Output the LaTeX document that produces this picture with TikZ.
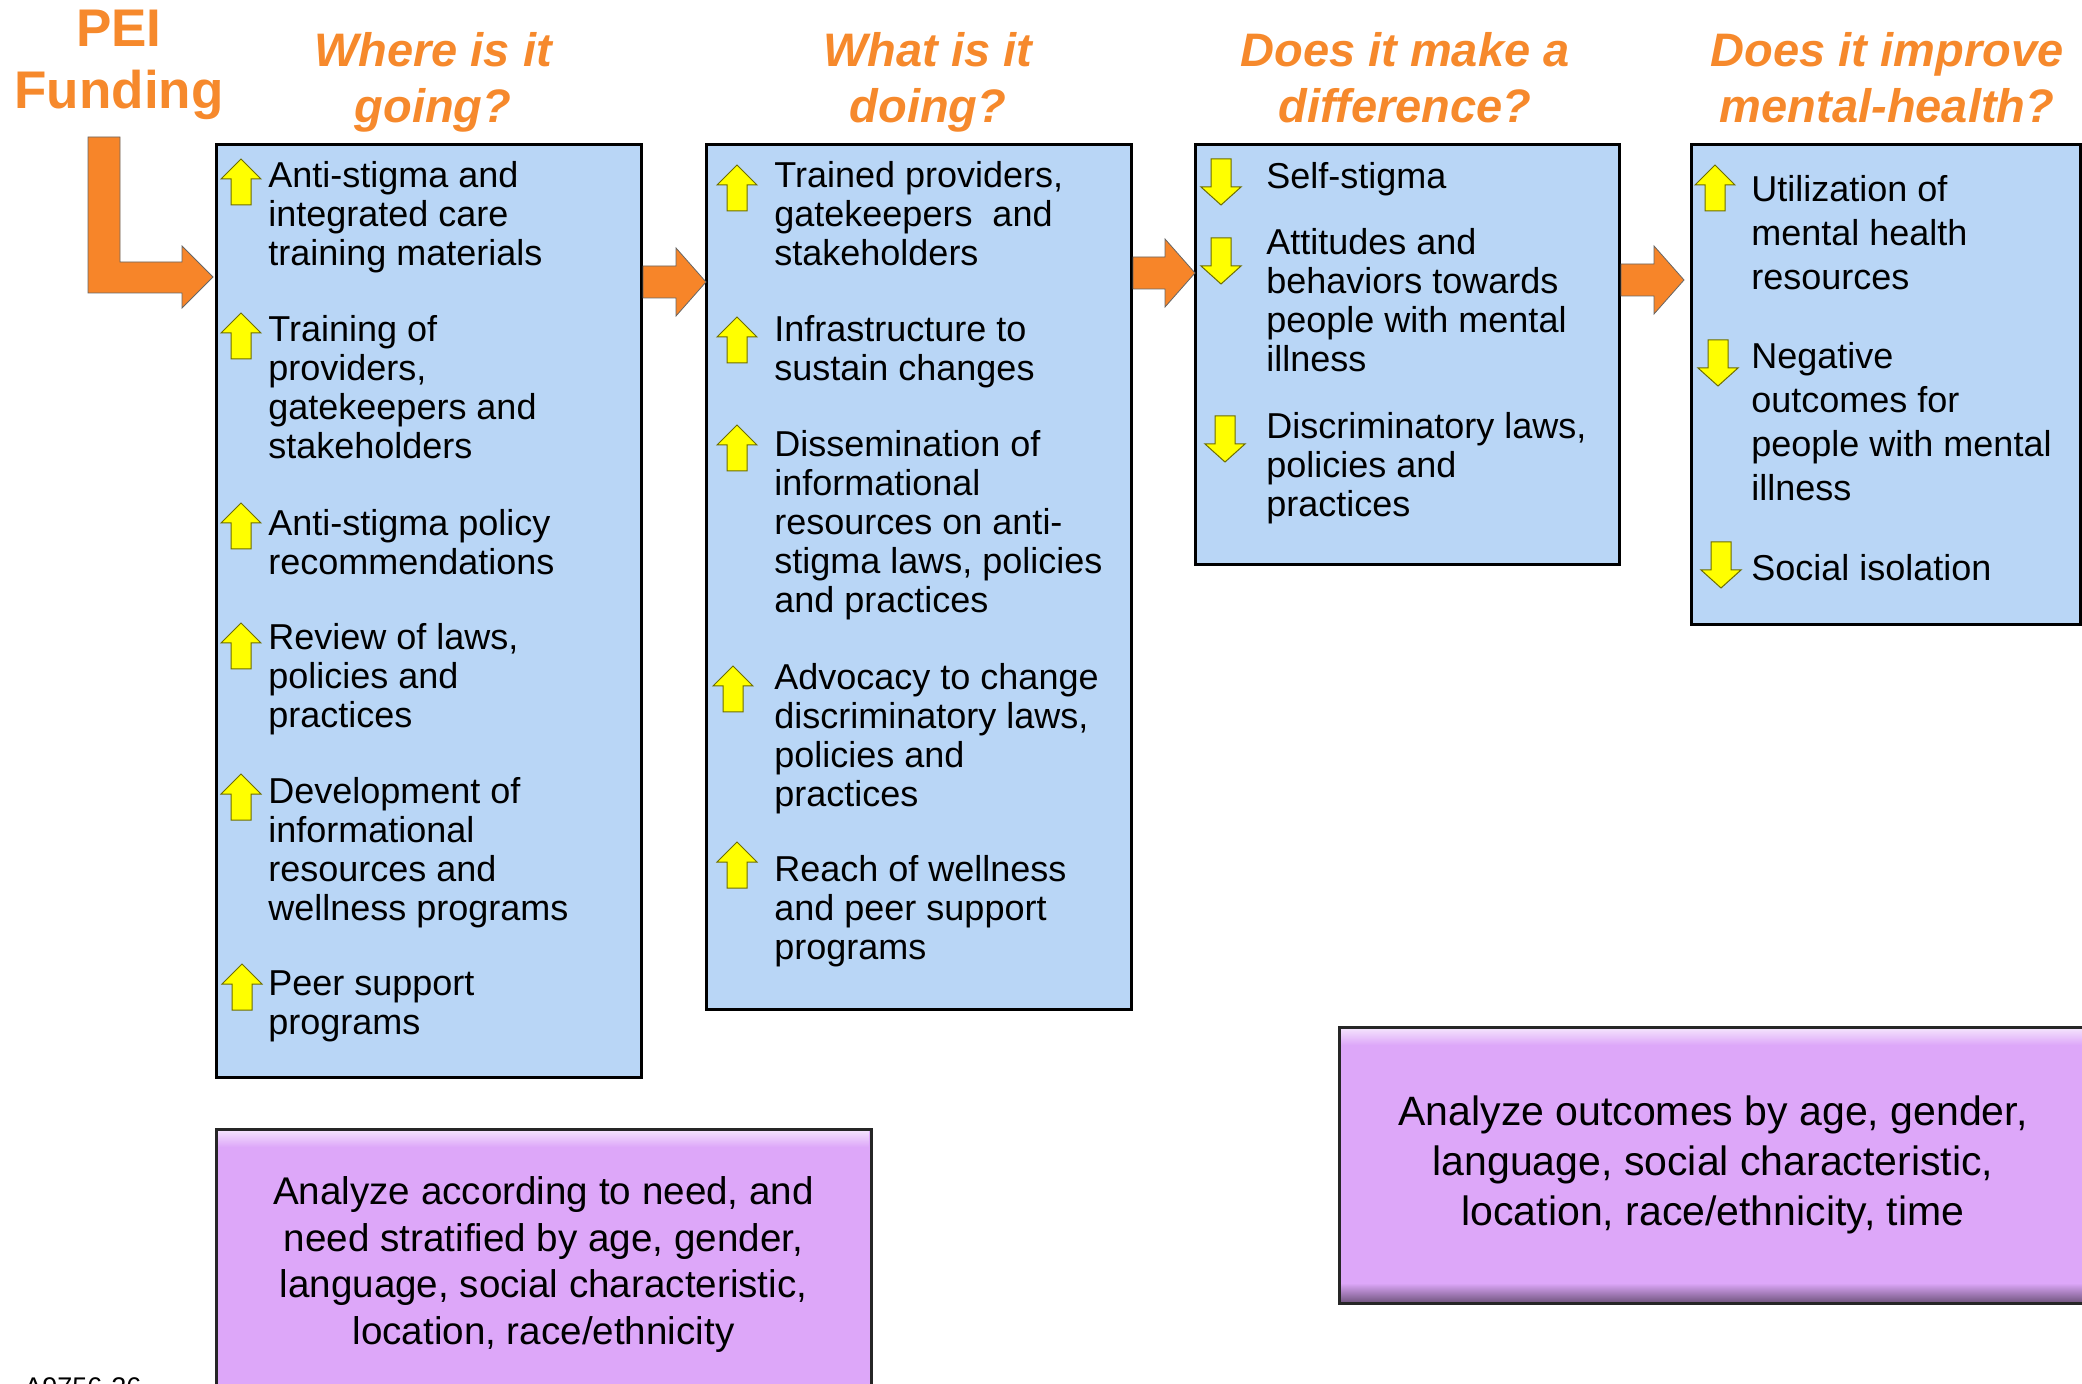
\documentclass[tikz,border=0pt]{standalone}
\usepackage{fontspec}
\setmainfont{Liberation Sans}
\usetikzlibrary{calc}

\definecolor{pborange}{RGB}{247,133,41}
\definecolor{ptitle}{RGB}{246,137,44}
\definecolor{pbblue}{RGB}{185,214,246}
\definecolor{pbviolet}{RGB}{221,167,249}
\definecolor{arrowyellow}{RGB}{255,255,0}
\definecolor{arrowline}{RGB}{110,110,0}

\tikzset{
  bluebox/.style={draw=black, line width=1.5pt, fill=pbblue, anchor=north west, inner sep=0pt, outer sep=0pt},
  violetbox/.style={draw=black!85, line width=1.5pt, fill=pbviolet, inner sep=0pt, outer sep=0pt, align=center},
  orangearrow/.style={fill=pborange, draw=black!60, line width=0.4pt},
  yellowarrow/.style={fill=arrowyellow, draw=arrowline, line width=0.5pt},
  item/.style={anchor=north west, inner sep=0pt, align=left, font=\fontsize{18pt}{19.5pt}\selectfont},
  itemwide/.style={item, font=\fontsize{18pt}{22pt}\selectfont},
  heading/.style={anchor=north, inner sep=0pt, align=center, text=ptitle, font=\fontsize{23.5pt}{28pt}\selectfont\bfseries\itshape},
  % pics run with y pointing up
  upmark/.pic={\draw[yellowarrow] (0,0) -- (20,-20) -- (10,-20) -- (10,-46) -- (-10,-46) -- (-10,-20) -- (-20,-20) -- cycle;},
  downmark/.pic={\draw[yellowarrow] (-10,0) -- (10,0) -- (10,-28) -- (20,-28) -- (0,-46) -- (-20,-28) -- (-10,-28) -- cycle;},
}

% block arrow from coordinate #1 (shaft start) to coordinate #2 (tip)
\newcommand{\blockarrow}[2]{%
  \draw[orangearrow] ($(#1)+(2,-16)$) -- ($(#2)+(-30,-16)$) -- ($(#2)+(-30,-34)$) -- (#2)
    -- ($(#2)+(-30,34)$) -- ($(#2)+(-30,16)$) -- ($(#1)+(2,16)$) -- cycle;}

\begin{document}
\begin{tikzpicture}[x=0.5pt,y=0.5pt,yscale=-1]
  \useasboundingbox (0,0) rectangle (2082,1384);
  \clip (0,0) rectangle (2082,1384);

  % Headings
  \node[anchor=north, inner sep=0pt, align=center, text=ptitle, font=\fontsize{26.5pt}{31pt}\selectfont\bfseries] (pei) at (119,10) {PEI\\Funding};
  \node[heading] (h1) at (433,32) {Where is it\\going?};
  \node[heading] (h2) at (928,32) {What is it\\doing?};
  \node[heading] (h3) at (1405,32) {Does it make a\\difference?};
  \node[heading] (h4) at (1887,32) {Does it improve\\mental-health?};

  % Boxes
  \node[bluebox, minimum width=212.5pt, minimum height=466pt] (b1) at (216,145) {};
  \node[bluebox, minimum width=212.5pt, minimum height=432pt] (b2) at (706,145) {};
  \node[bluebox, minimum width=212pt, minimum height=210pt] (b3) at (1195,145) {};
  \node[bluebox, minimum width=194.5pt, minimum height=240pt] (b4) at (1691,145) {};

  % Funding arrow
  \coordinate (ftip) at ($(b1.north west |- 0,277)+(-3,0)$);
  \draw[orangearrow] ($(ftip)+(-125,-140)$) -- ($(ftip)+(-93,-140)$) -- ($(ftip)+(-93,-15)$)
    -- ($(ftip)+(-31,-15)$) -- ($(ftip)+(-31,-31)$) -- (ftip) -- ($(ftip)+(-31,31)$)
    -- ($(ftip)+(-31,16)$) -- ($(ftip)+(-125,16)$) -- cycle;

  % Arrows between boxes
  \coordinate (s12) at (b1.north east |- 0,282);
  \coordinate (t12) at (b2.north west |- 0,282);
  \blockarrow{s12}{t12}
  \coordinate (s23) at (b2.north east |- 0,273);
  \coordinate (t23) at (b3.north west |- 0,273);
  \blockarrow{s23}{t23}
  \coordinate (s34) at (b3.north east |- 0,280);
  \coordinate (t34) at ($(b4.north west |- 0,280)+(-7,0)$);
  \blockarrow{s34}{t34}

  % Where is it going?
  \pic at (241,159) {upmark};
  \node[item] (i11) at (268,161.5) {Anti-stigma and\\integrated care\\training materials};
  \pic at (241,313) {upmark};
  \node[item] (i12) at (268,315.5) {Training of\\providers,\\gatekeepers and\\stakeholders};
  \pic at (241,503) {upmark};
  \node[item] (i13) at (268,509.5) {Anti-stigma policy\\recommendations};
  \pic at (241,623) {upmark};
  \node[item] (i14) at (268,623.5) {Review of laws,\\policies and\\practices};
  \pic at (241,774) {upmark};
  \node[item] (i15) at (268,777.5) {Development of\\informational\\resources and\\wellness programs};
  \pic at (242,964) {upmark};
  \node[item] (i16) at (268,970.5) {Peer support\\programs};

  % What is it doing?
  \pic at (737,165) {upmark};
  \node[item] (i21) at (774,161.5) {Trained providers,\\gatekeepers~ and\\stakeholders};
  \pic at (737,317) {upmark};
  \node[item] (i22) at (774,315.5) {Infrastructure to\\sustain changes};
  \pic at (737,425) {upmark};
  \node[item] (i23) at (774,430.5) {Dissemination of\\informational\\resources on anti-\\stigma laws, policies\\and practices};
  \pic at (733,666) {upmark};
  \node[item] (i24) at (774,663.5) {Advocacy to change\\discriminatory laws,\\policies and\\practices};
  \pic at (737,842) {upmark};
  \node[item] (i25) at (774,855.5) {Reach of wellness\\and peer support\\programs};

  % Does it make a difference?
  \pic at (1221,159) {downmark};
  \node[item] (i31) at (1266,162) {Self-stigma};
  \pic at (1221,238) {downmark};
  \node[item] (i32) at (1266,228) {Attitudes and\\behaviors towards\\people with mental\\illness};
  \pic at (1225,416) {downmark};
  \node[item] (i33) at (1266,412) {Discriminatory laws,\\policies and\\practices};

  % Does it improve mental-health?
  \pic at (1715,165) {upmark};
  \node[itemwide] (i41) at (1751,175) {Utilization of\\mental health\\resources};
  \pic at (1718,340) {downmark};
  \node[itemwide] (i42) at (1751,342) {Negative\\outcomes for\\people with mental\\illness};
  \pic at (1721,542) {downmark};
  \node[itemwide] (i43) at (1751,554) {Social isolation};

  % Analysis boxes
  \node[violetbox, minimum width=327.5pt, minimum height=135.5pt, font=\fontsize{19.3pt}{23.3pt}\selectfont] (p1) at (543.5,1264.5)
    {Analyze according to need, and\\need stratified by age, gender,\\language, social characteristic,\\location, race/ethnicity};
  \shade[top color=pbviolet!35!white, bottom color=pbviolet] ($(p1.north west)+(2,2)$) rectangle ($(p1.north east)+(-2,18)$);
  \node[violetbox, minimum width=374pt, minimum height=138pt, font=\fontsize{20.5pt}{25pt}\selectfont] (p2) at (1713,1165)
    {Analyze outcomes by age, gender,\\language, social characteristic,\\location, race/ethnicity, time};
  \shade[top color=pbviolet!35!white, bottom color=pbviolet] ($(p2.north west)+(2,2)$) rectangle ($(p2.north east)+(-2,18)$);
  \shade[top color=pbviolet, bottom color=pbviolet!55!black] ($(p2.south west)+(2,-20)$) rectangle ($(p2.south east)+(-2,-2)$);

  % figure code
  \node[anchor=north west, inner sep=0pt, font=\fontsize{13.5pt}{16pt}\selectfont] (code) at (24,1377) {A9756-26};
\end{tikzpicture}
\end{document}
